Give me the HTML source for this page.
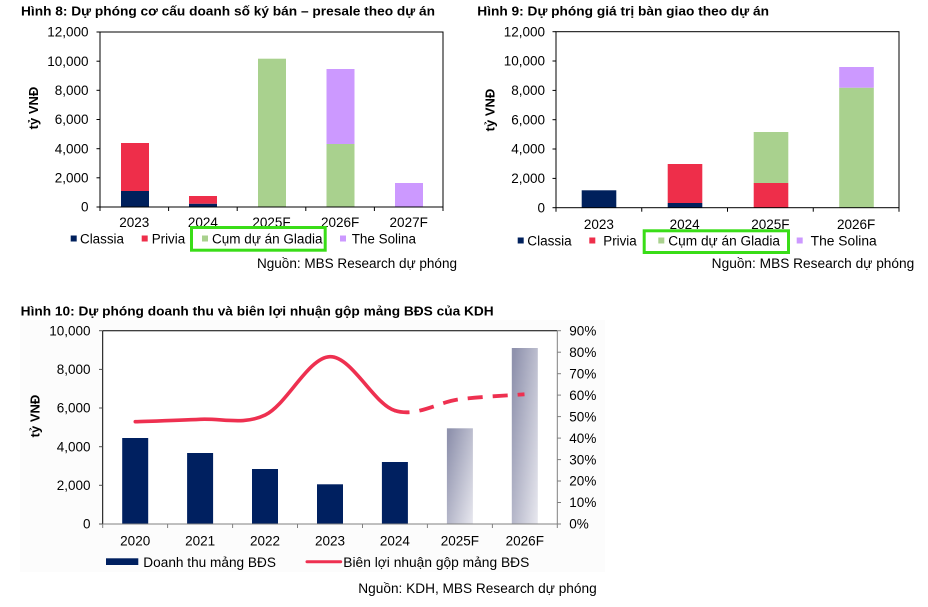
<!DOCTYPE html>
<html>
<head>
<meta charset="utf-8">
<style>
  html,body{margin:0;padding:0;background:#fff;}
  svg{display:block;}
  text{font-family:"Liberation Sans","DejaVu Sans",Arial,sans-serif;fill:#000;}
  .t{font-size:12.5px;font-weight:bold;}
  .n{font-size:13.5px;}
  .yl{font-size:13px;font-weight:bold;}
  .lg{font-size:13.5px;}
</style>
</head>
<body>
<svg width="928" height="607" viewBox="0 0 928 607" xmlns="http://www.w3.org/2000/svg">
  <defs>
    <linearGradient id="fg" x1="0" y1="0.15" x2="1" y2="1">
      <stop offset="0" stop-color="#8f92ad"/>
      <stop offset="1" stop-color="#e8e8ef"/>
    </linearGradient>
  </defs>
  <rect x="0" y="0" width="928" height="607" fill="#fff"/>

  <!-- ================= CHART 1 ================= -->
  <text class="t" x="21" y="15.5" textLength="414" lengthAdjust="spacingAndGlyphs">Hình 8: Dự phóng cơ cấu doanh số ký bán – presale theo dự án</text>

  <rect x="121" y="191" width="28" height="16" fill="#00205c"/>
  <rect x="121" y="143" width="28" height="48" fill="#ee2e4a"/>
  <rect x="189" y="203.7" width="28" height="3.3" fill="#00205c"/>
  <rect x="189" y="196" width="28" height="7.7" fill="#ee2e4a"/>
  <rect x="258" y="58.7" width="28" height="148.3" fill="#a9d18e"/>
  <rect x="326.5" y="144" width="28" height="63" fill="#a9d18e"/>
  <rect x="326.5" y="69" width="28" height="75" fill="#cc99ff"/>
  <rect x="395" y="183" width="28" height="24" fill="#cc99ff"/>

  <rect x="100" y="32" width="343" height="175" fill="none" stroke="#000" stroke-width="1"/>
  <g stroke="#000" stroke-width="1">
    <line x1="96.5" y1="32" x2="100" y2="32"/>
    <line x1="96.5" y1="61.2" x2="100" y2="61.2"/>
    <line x1="96.5" y1="90.3" x2="100" y2="90.3"/>
    <line x1="96.5" y1="119.5" x2="100" y2="119.5"/>
    <line x1="96.5" y1="148.7" x2="100" y2="148.7"/>
    <line x1="96.5" y1="177.8" x2="100" y2="177.8"/>
    <line x1="96.5" y1="207" x2="100" y2="207"/>
    <line x1="100" y1="207" x2="100" y2="211"/>
    <line x1="168.6" y1="207" x2="168.6" y2="211"/>
    <line x1="237.2" y1="207" x2="237.2" y2="211"/>
    <line x1="305.8" y1="207" x2="305.8" y2="211"/>
    <line x1="374.4" y1="207" x2="374.4" y2="211"/>
    <line x1="443" y1="207" x2="443" y2="211"/>
  </g>
  <g class="n" text-anchor="end">
    <text x="88.5" y="36.7">12,000</text>
    <text x="88.5" y="65.9">10,000</text>
    <text x="88.5" y="95">8,000</text>
    <text x="88.5" y="124.2">6,000</text>
    <text x="88.5" y="153.4">4,000</text>
    <text x="88.5" y="182.5">2,000</text>
    <text x="88.5" y="211.7">0</text>
  </g>
  <g class="n" text-anchor="middle">
    <text x="134.3" y="227">2023</text>
    <text x="202.9" y="227">2024</text>
    <text x="271.5" y="227">2025F</text>
    <text x="340.1" y="227">2026F</text>
    <text x="408.7" y="227">2027F</text>
  </g>
  <text class="yl" text-anchor="middle" transform="translate(37.8,108) rotate(-90)">tỷ VNĐ</text>

  <rect x="70.7" y="235.5" width="6" height="6" fill="#00205c"/>
  <text class="lg" x="80" y="243.5" textLength="44" lengthAdjust="spacingAndGlyphs">Classia</text>
  <rect x="141.7" y="235.5" width="6" height="6" fill="#ee2e4a"/>
  <text class="lg" x="151.7" y="243.5" textLength="33.5" lengthAdjust="spacingAndGlyphs">Privia</text>
  <rect x="191.5" y="227.5" width="133.7" height="22.7" fill="none" stroke="#39dd17" stroke-width="3"/>
  <rect x="202" y="235.5" width="6" height="6" fill="#a9d18e"/>
  <text class="lg" x="212" y="243.5" textLength="110.5" lengthAdjust="spacingAndGlyphs">Cụm dự án Gladia</text>
  <rect x="340" y="235.5" width="6" height="6" fill="#cc99ff"/>
  <text class="lg" x="351.7" y="243.5" textLength="64.3" lengthAdjust="spacingAndGlyphs">The Solina</text>

  <text class="lg" x="257" y="268" textLength="200" lengthAdjust="spacingAndGlyphs">Nguồn: MBS Research dự phóng</text>

  <!-- ================= CHART 2 ================= -->
  <text class="t" x="477.3" y="15.5" textLength="291.7" lengthAdjust="spacingAndGlyphs">Hình 9: Dự phóng giá trị bàn giao theo dự án</text>

  <rect x="581.7" y="190.3" width="34.6" height="17.4" fill="#00205c"/>
  <rect x="667.7" y="203" width="34.6" height="4.7" fill="#00205c"/>
  <rect x="667.7" y="164" width="34.6" height="39" fill="#ee2e4a"/>
  <rect x="753.7" y="183" width="34.6" height="24.7" fill="#ee2e4a"/>
  <rect x="753.7" y="132" width="34.6" height="51" fill="#a9d18e"/>
  <rect x="839.2" y="87.7" width="34.6" height="120" fill="#a9d18e"/>
  <rect x="839.2" y="67" width="34.6" height="20.7" fill="#cc99ff"/>

  <rect x="556" y="31.7" width="343" height="176" fill="none" stroke="#000" stroke-width="1"/>
  <g stroke="#000" stroke-width="1">
    <line x1="552.5" y1="31.7" x2="556" y2="31.7"/>
    <line x1="552.5" y1="61" x2="556" y2="61"/>
    <line x1="552.5" y1="90.4" x2="556" y2="90.4"/>
    <line x1="552.5" y1="119.7" x2="556" y2="119.7"/>
    <line x1="552.5" y1="149" x2="556" y2="149"/>
    <line x1="552.5" y1="178.4" x2="556" y2="178.4"/>
    <line x1="552.5" y1="207.7" x2="556" y2="207.7"/>
    <line x1="556" y1="207.7" x2="556" y2="211.7"/>
    <line x1="641.75" y1="207.7" x2="641.75" y2="211.7"/>
    <line x1="727.5" y1="207.7" x2="727.5" y2="211.7"/>
    <line x1="813.25" y1="207.7" x2="813.25" y2="211.7"/>
    <line x1="899" y1="207.7" x2="899" y2="211.7"/>
  </g>
  <g class="n" text-anchor="end">
    <text x="545" y="36.4">12,000</text>
    <text x="545" y="65.7">10,000</text>
    <text x="545" y="95.1">8,000</text>
    <text x="545" y="124.4">6,000</text>
    <text x="545" y="153.7">4,000</text>
    <text x="545" y="183.1">2,000</text>
    <text x="545" y="212.4">0</text>
  </g>
  <g class="n" text-anchor="middle">
    <text x="598.9" y="229">2023</text>
    <text x="684.6" y="229">2024</text>
    <text x="770.4" y="229">2025F</text>
    <text x="856.1" y="229">2026F</text>
  </g>
  <text class="yl" text-anchor="middle" transform="translate(494.5,110) rotate(-90)">tỷ VNĐ</text>

  <rect x="517.7" y="237.5" width="6" height="6" fill="#00205c"/>
  <text class="lg" x="527.3" y="245.5" textLength="44.4" lengthAdjust="spacingAndGlyphs">Classia</text>
  <rect x="589.3" y="237.5" width="6" height="6" fill="#ee2e4a"/>
  <text class="lg" x="603.3" y="245.5" textLength="33.4" lengthAdjust="spacingAndGlyphs">Privia</text>
  <rect x="644.2" y="230.8" width="144.3" height="21.7" fill="none" stroke="#39dd17" stroke-width="3"/>
  <rect x="658.3" y="237.5" width="6" height="6" fill="#a9d18e"/>
  <text class="lg" x="668.3" y="245.5" textLength="111.7" lengthAdjust="spacingAndGlyphs">Cụm dự án Gladia</text>
  <rect x="796.7" y="237.5" width="6" height="6" fill="#cc99ff"/>
  <text class="lg" x="810.7" y="245.5" textLength="66" lengthAdjust="spacingAndGlyphs">The Solina</text>

  <text class="lg" x="711.7" y="268" textLength="202.6" lengthAdjust="spacingAndGlyphs">Nguồn: MBS Research dự phóng</text>

  <!-- ================= CHART 3 ================= -->
  <rect x="20" y="320" width="585" height="252" fill="#fcfcfc"/>
  <text class="t" x="20.7" y="315.5" textLength="473" lengthAdjust="spacingAndGlyphs">Hình 10: Dự phóng doanh thu và biên lợi nhuận gộp mảng BĐS của KDH</text>

  <rect x="102.7" y="330.7" width="454.6" height="193.3" fill="#fff"/>

  <rect x="122.2" y="438" width="26" height="86" fill="#002060"/>
  <rect x="187.1" y="453" width="26" height="71" fill="#002060"/>
  <rect x="252" y="469" width="26" height="55" fill="#002060"/>
  <rect x="317" y="484.3" width="26" height="39.7" fill="#002060"/>
  <rect x="381.9" y="462" width="26" height="62" fill="#002060"/>
  <rect x="446.9" y="428.3" width="26" height="95.7" fill="url(#fg)"/>
  <rect x="511.8" y="348" width="26" height="176" fill="url(#fg)"/>

  <line x1="102.7" y1="330.7" x2="557.3" y2="330.7" stroke="#000" stroke-width="1"/>
  <line x1="102.7" y1="330.7" x2="102.7" y2="524" stroke="#000" stroke-width="1"/>
  <line x1="102.7" y1="524" x2="557.3" y2="524" stroke="#808080" stroke-width="1"/>
  <line x1="557.3" y1="330.7" x2="557.3" y2="524" stroke="#808080" stroke-width="1"/>
  <g stroke="#555" stroke-width="1">
    <line x1="99" y1="330.7" x2="102.7" y2="330.7"/>
    <line x1="99" y1="369.4" x2="102.7" y2="369.4"/>
    <line x1="99" y1="408" x2="102.7" y2="408"/>
    <line x1="99" y1="446.7" x2="102.7" y2="446.7"/>
    <line x1="99" y1="485.3" x2="102.7" y2="485.3"/>
    <line x1="99" y1="524" x2="102.7" y2="524"/>
  </g>
  <g stroke="#808080" stroke-width="1">
    <line x1="102.7" y1="524" x2="102.7" y2="528"/>
    <line x1="167.6" y1="524" x2="167.6" y2="528"/>
    <line x1="232.6" y1="524" x2="232.6" y2="528"/>
    <line x1="297.5" y1="524" x2="297.5" y2="528"/>
    <line x1="362.5" y1="524" x2="362.5" y2="528"/>
    <line x1="427.4" y1="524" x2="427.4" y2="528"/>
    <line x1="492.4" y1="524" x2="492.4" y2="528"/>
    <line x1="557.3" y1="524" x2="557.3" y2="528"/>
    <line x1="557.3" y1="330.7" x2="561" y2="330.7"/>
    <line x1="557.3" y1="352.2" x2="561" y2="352.2"/>
    <line x1="557.3" y1="373.7" x2="561" y2="373.7"/>
    <line x1="557.3" y1="395.1" x2="561" y2="395.1"/>
    <line x1="557.3" y1="416.6" x2="561" y2="416.6"/>
    <line x1="557.3" y1="438.1" x2="561" y2="438.1"/>
    <line x1="557.3" y1="459.6" x2="561" y2="459.6"/>
    <line x1="557.3" y1="481" x2="561" y2="481"/>
    <line x1="557.3" y1="502.5" x2="561" y2="502.5"/>
    <line x1="557.3" y1="524" x2="561" y2="524"/>
  </g>

  <path d="M135.3,421.7 C146.1,421.3 178.6,420.4 200.3,419.3 C222,418.2 243.6,425.4 265.2,415 C286.8,404.6 308.3,357.4 329.9,356.7 C351.5,356 374.1,404.4 394.7,410.5" fill="none" stroke="#ee3050" stroke-width="3.6" stroke-linecap="round"/>
  <path d="M394.7,410.5 C416.3,417.6 438,402 459.6,399.3 C481.2,396.6 513.7,395.1 524.5,394.3" fill="none" stroke="#ee3050" stroke-width="3.8" stroke-dasharray="15 10"/>

  <g class="n" text-anchor="end">
    <text x="90.5" y="335.4">10,000</text>
    <text x="90.5" y="374.1">8,000</text>
    <text x="90.5" y="412.7">6,000</text>
    <text x="90.5" y="451.4">4,000</text>
    <text x="90.5" y="490">2,000</text>
    <text x="90.5" y="528.7">0</text>
  </g>
  <g class="n">
    <text x="569.3" y="335.4">90%</text>
    <text x="569.3" y="356.9">80%</text>
    <text x="569.3" y="378.4">70%</text>
    <text x="569.3" y="399.8">60%</text>
    <text x="569.3" y="421.3">50%</text>
    <text x="569.3" y="442.8">40%</text>
    <text x="569.3" y="464.3">30%</text>
    <text x="569.3" y="485.7">20%</text>
    <text x="569.3" y="507.2">10%</text>
    <text x="569.3" y="528.7">0%</text>
  </g>
  <g class="n" text-anchor="middle">
    <text x="135.2" y="545.3">2020</text>
    <text x="200.1" y="545.3">2021</text>
    <text x="265" y="545.3">2022</text>
    <text x="330" y="545.3">2023</text>
    <text x="394.9" y="545.3">2024</text>
    <text x="459.9" y="545.3">2025F</text>
    <text x="524.8" y="545.3">2026F</text>
  </g>
  <text class="yl" text-anchor="middle" transform="translate(39.5,416) rotate(-90)">tỷ VNĐ</text>

  <rect x="106" y="558.3" width="32.3" height="6.7" fill="#002060"/>
  <text class="lg" x="143.3" y="567" textLength="132.7" lengthAdjust="spacingAndGlyphs">Doanh thu mảng BĐS</text>
  <line x1="307" y1="561.7" x2="340.7" y2="561.7" stroke="#ee3050" stroke-width="3" stroke-linecap="round"/>
  <text class="lg" x="343.3" y="567" textLength="186" lengthAdjust="spacingAndGlyphs">Biên lợi nhuận gộp mảng BĐS</text>

  <text class="lg" x="358.3" y="593" textLength="238.4" lengthAdjust="spacingAndGlyphs">Nguồn: KDH, MBS Research dự phóng</text>
</svg>
</body>
</html>
